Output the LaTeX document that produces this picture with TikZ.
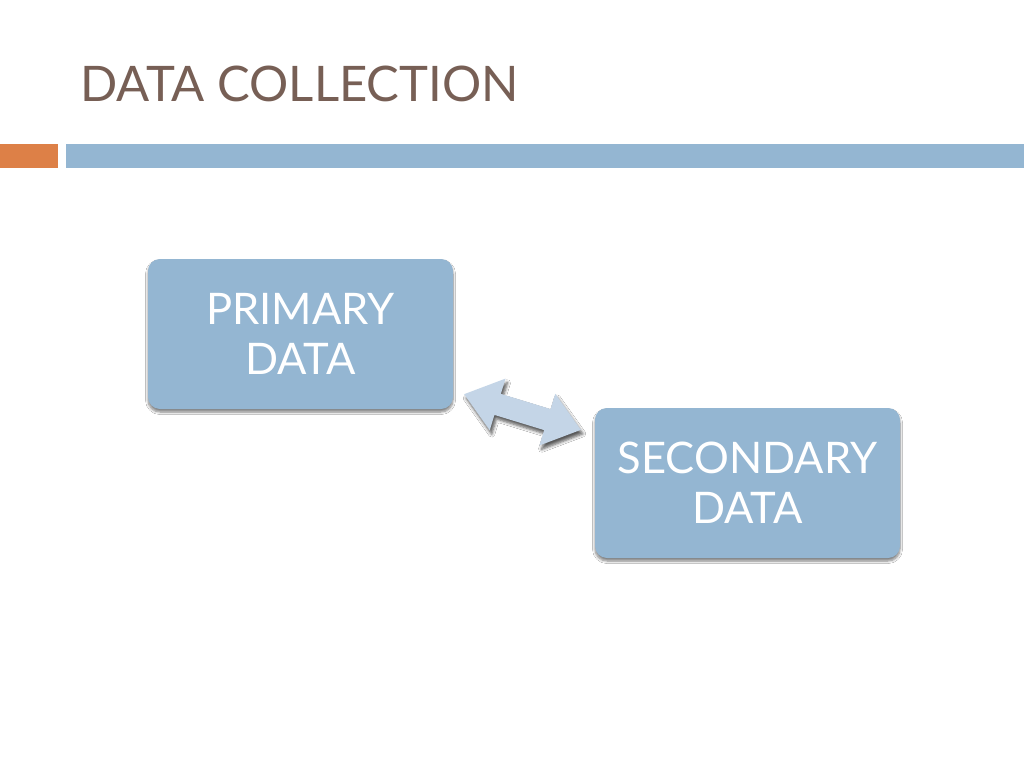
\documentclass[tikz,border=0pt]{standalone}
\usepackage{fontspec}
\setmainfont{Lato}
\usetikzlibrary{shadows.blur}
\definecolor{boxblue}{HTML}{94B6D2}
\definecolor{barorange}{HTML}{DD8047}
\definecolor{titlebrown}{HTML}{775F55}
\definecolor{arrowblue}{HTML}{C4D5E7}
\tikzset{
  databox/.style={draw=none, fill=boxblue, rounded corners=12pt, minimum width=305pt, minimum height=150pt,
    text=white, align=center, font=\fontsize{43.5}{50}\selectfont,
    blur shadow={shadow xshift=0pt, shadow yshift=-3pt, shadow blur radius=2.5pt, shadow blur steps=6, shadow opacity=50}},
}
\begin{document}
\begin{tikzpicture}[x=1pt,y=-1pt]
\useasboundingbox (0,0) rectangle (1024,768);
\fill[white] (0,0) rectangle (1024,768);
\node[anchor=base west, text=titlebrown, font=\fontsize{49}{60}\selectfont, inner sep=0pt] (title) at (80,101) {DATA COLLECTION};
\fill[barorange] (0,144) rectangle (58,168);
\fill[boxblue] (66,144) rectangle (1024,168);
\node[databox] (primary) at (300.5,334) {PRIMARY\\DATA};
\node[databox] (secondary) at (747.5,483) {SECONDARY\\DATA};
\begin{scope}[shift={(522.5,412)}, rotate=-17]
\fill[arrowblue, blur shadow={shadow xshift=2pt, shadow yshift=-4pt, shadow blur radius=3pt, shadow blur steps=5, shadow opacity=65}]
  (-61,0) -- (-26,-27) -- (-26,-11) -- (26,-11) -- (26,-27) -- (61,0) -- (26,27) -- (26,11) -- (-26,11) -- (-26,27) -- cycle;
\end{scope}
\end{tikzpicture}
\end{document}
